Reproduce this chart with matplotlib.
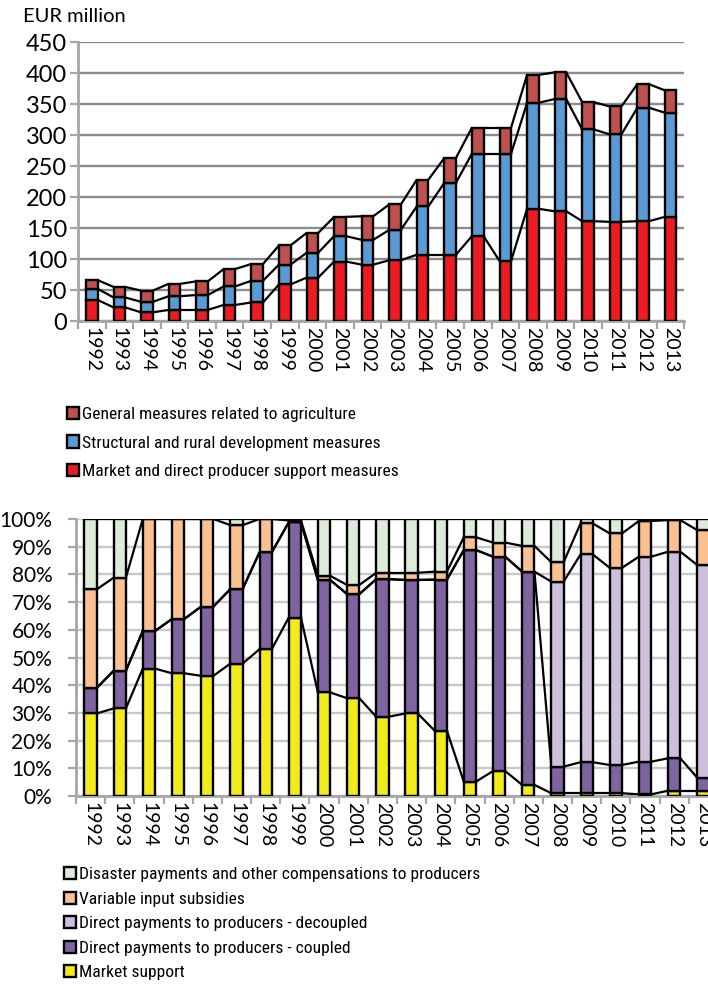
import matplotlib
matplotlib.use("Agg")
import matplotlib.pyplot as plt
from matplotlib import font_manager
import numpy as np

plt.rcParams['font.family'] = ['Lato', 'DejaVu Sans']

# the legends use a narrow face if one is around (the original is Calibri)
installed = {f.name for f in font_manager.fontManager.ttflist}
leg_family, leg_size = "Lato", 11.3
for fam, size in [("Roboto Condensed", 12.6), ("Liberation Sans Narrow", 13.2)]:
    if fam in installed:
        leg_family, leg_size = fam, size
        break
leg_px = leg_size * 100 / 72

years = [str(y) for y in range(1992, 2014)]

# top chart, EUR million
market_direct = [34, 22, 14, 18, 18, 26, 30, 59, 70, 96, 91, 98, 107, 107, 137, 97, 181, 177, 161, 160, 161, 168]
structural = [18, 16, 17, 22, 24, 30, 35, 32, 40, 41, 40, 49, 78, 116, 133, 173, 171, 181, 148, 141, 183, 168]
general = [14, 17, 18, 20, 22, 28, 27, 31, 32, 31, 38, 41, 43, 40, 42, 42, 45, 43, 44, 45, 38, 36]

# bottom chart, % of producer support
market_support = [29.8, 31.6, 46.0, 44.3, 43.4, 47.8, 53.0, 64.4, 37.4, 35.3, 28.6, 29.8, 23.6, 5.2, 9.0, 4.0, 1.0, 1.0, 1.0, 0.6, 1.9, 1.9]
coupled = [9.2, 13.6, 13.6, 19.6, 25.0, 26.9, 35.0, 34.4, 40.6, 37.6, 49.7, 48.2, 54.5, 83.6, 77.4, 77.0, 9.6, 11.2, 10.2, 11.8, 11.7, 4.7]
decoupled = [0, 0, 0, 0, 0, 0, 0, 0, 0, 0, 0, 0, 0, 0, 0, 0, 66.8, 75.0, 71.2, 74.0, 74.6, 76.8]
variable_input = [35.6, 33.6, 40.4, 36.1, 31.6, 23.1, 12.0, 0.7, 1.5, 3.3, 2.3, 2.6, 2.9, 4.6, 5.1, 9.3, 7.0, 11.2, 12.4, 12.9, 11.4, 12.6]
disaster = [25.4, 21.2, 0, 0, 0, 2.2, 0, 0.5, 20.5, 23.8, 19.4, 19.4, 19.0, 6.6, 8.5, 9.7, 15.6, 1.6, 5.2, 0.7, 0.4, 4.0]

top_series = [
    ("Market and direct producer support measures", market_direct, "#ED1C24"),
    ("Structural and rural development measures", structural, "#5B9BD5"),
    ("General measures related to agriculture", general, "#C0504D"),
]
bottom_series = [
    ("Market support", market_support, "#F2EA1A"),
    ("Direct payments to producers - coupled", coupled, "#8064A2"),
    ("Direct payments to producers - decoupled", decoupled, "#CCC0DA"),
    ("Variable input subsidies", variable_input, "#FAC090"),
    ("Disaster payments and other compensations to producers", disaster, "#DDEBDA"),
]

W = 0.42
x = np.arange(len(years))


def stacked(ax, series):
    handles = []
    bottom = np.zeros(len(x))
    for label, vals, col in series:
        vals = np.array(vals, dtype=float)
        b = ax.bar(x, vals, W, bottom=bottom, color=col, edgecolor="black",
                   linewidth=1.7, label=label, zorder=3)
        handles.append(b)
        bottom = bottom + vals
        # excel style series lines between bars
        for i in range(len(x) - 1):
            ax.plot([x[i] + W / 2, x[i + 1] - W / 2], [bottom[i], bottom[i + 1]],
                    color="black", lw=1.6, zorder=2, solid_capstyle="butt")
    return handles


def style(ax, gridcol, ysize, ypad):
    ax.set_xlim(-0.5, len(x) - 0.5)
    ax.set_xticks(x)
    ax.set_xticklabels(years, rotation=-90, fontsize=14)
    ax.set_xticks(np.arange(-0.5, len(x), 1), minor=True)
    ax.tick_params(axis="x", which="major", length=0, pad=4)
    ax.tick_params(axis="x", which="minor", length=6, width=1.6, color="#A6A6A6")
    ax.tick_params(axis="y", length=6, width=1.6, color="#A6A6A6", labelsize=ysize, pad=ypad)
    for s in ["top", "right"]:
        ax.spines[s].set_visible(False)
    for s in ["left", "bottom"]:
        ax.spines[s].set_color("#A6A6A6")
        ax.spines[s].set_linewidth(2)
    ax.yaxis.grid(True, color=gridcol, lw=1.7, zorder=0)
    ax.set_axisbelow(True)


def legend(handles, labels, left_px, top_px, row_px):
    fig.legend(handles, labels, loc="upper left",
               bbox_to_anchor=(left_px / 708, 1 - top_px / 986), frameon=False,
               prop={"family": leg_family, "size": leg_size},
               handlelength=12 / leg_px, handleheight=12 / leg_px,
               handletextpad=3 / leg_px, labelspacing=(row_px - leg_px) / leg_px,
               borderpad=0, borderaxespad=0)


fig = plt.figure(figsize=(7.08, 9.86), dpi=100)

ax1 = fig.add_axes([0.1102, 0.6744, 0.8566, 0.2830])
h1 = stacked(ax1, top_series)
style(ax1, "#8C8C8C", 17, 2)
ax1.set_ylim(0, 450)
ax1.set_yticks(range(0, 451, 50))
fig.text(23 / 708, 1 - 17 / 986, "EUR million", fontsize=14.5, va="center", ha="left")
legend(h1[::-1], [s[0] for s in top_series][::-1], 67, 416 - leg_px / 2, 30.5)

ax2 = fig.add_axes([0.1073, 0.1927, 0.9068, 0.2809])
h2 = stacked(ax2, bottom_series)
style(ax2, "#C8C8C8", 15, 11)
ax2.set_ylim(0, 100)
ax2.set_yticks(range(0, 101, 10))
ax2.set_yticklabels([f"{v}%" for v in range(0, 101, 10)])
legend(h2[::-1], [s[0] for s in bottom_series][::-1], 64, 876 - leg_px / 2, 26.8)

fig.savefig("out.png", dpi=100)
